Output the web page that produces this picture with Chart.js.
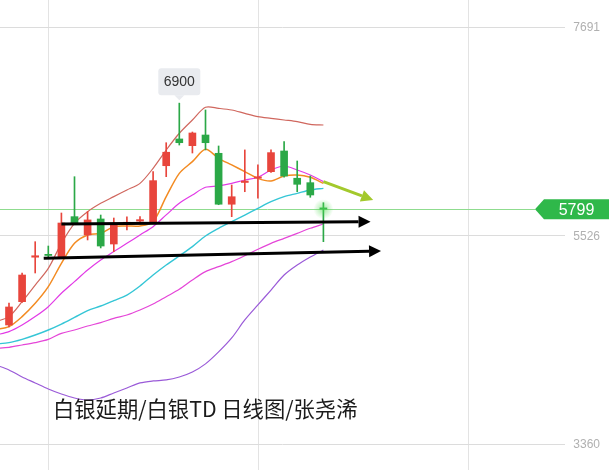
<!DOCTYPE html>
<html>
<head>
<meta charset="utf-8">
<script src="https://cdn.jsdelivr.net/npm/chart.js@4/dist/chart.umd.min.js"></script>
<style>
    html, body { margin: 0; padding: 0; background: #fff; }
    #wrap { width: 612px; height: 470px; position: relative; }
</style>
</head>
<body>
<div id="wrap"><canvas id="myChart"></canvas></div>
<script>
// day index 0 is just off the left edge, only the averages reach it
const opens  = [null, 4596, 4838, 5300, 5330, 5305, 5721, 5531, 5697, 5437, 5648, 5675, 5655, 6250, 6528, 6458, 6569, 6379, 5850, 6076, 6120, 6188, 6403, 6120, 6074, 5812];
const highs  = [null, 4824, 5136, 5461, 5416, 5759, 6136, 5773, 5738, 5707, 5718, 5721, 6188, 6489, 6900, 6600, 6829, 6455, 6050, 6414, 6258, 6414, 6500, 6299, 6143, 5866];
const lows   = [null, 4575, 4830, 5136, 5292, 5300, 5640, 5479, 5396, 5357, 5583, 5645, 5650, 6136, 6465, 6382, 6414, 5845, 5721, 5980, 5912, 6180, 6130, 5980, 5922, 5461];
const closes = [null, 4783, 5115, 5315, 5318, 5655, 5645, 5687, 5416, 5645, 5663, 5690, 6095, 6390, 6489, 6590, 6489, 5850, 5928, 6091, 6135, 6386, 6143, 6057, 5946, 5799];

const maRed     = [4631, 4683, 4838, 5011, 5184, 5444, 5652, 5773, 5860, 5929, 5998, 6067, 6223, 6413, 6587, 6725, 6857, 6846, 6829, 6794, 6760, 6742, 6725, 6708, 6680, 6673];
const maOrange  = [4551, 4579, 4683, 4821, 4994, 5236, 5444, 5531, 5548, 5617, 5624, 5624, 5669, 5929, 6171, 6292, 6420, 6327, 6258, 6189, 6119, 6092, 6143, 6154, 6130, 6067];
const maPink    = [4492, 4527, 4596, 4683, 4786, 4925, 5046, 5167, 5271, 5358, 5444, 5531, 5617, 5739, 5860, 5946, 6026, 6040, 6067, 6102, 6130, 6206, 6247, 6206, 6154, 6085];
const maCyan    = [4399, 4413, 4447, 4492, 4544, 4606, 4675, 4745, 4793, 4849, 4907, 5001, 5115, 5219, 5313, 5410, 5520, 5600, 5669, 5738, 5808, 5877, 5929, 5963, 5998, 6015];
const maPink2   = [4354, 4364, 4388, 4413, 4447, 4509, 4544, 4585, 4620, 4665, 4700, 4752, 4814, 4890, 4966, 5063, 5150, 5202, 5254, 5316, 5382, 5444, 5496, 5548, 5600, 5645];
const maPurple  = [4181, 4129, 4056, 3994, 3931, 3879, 3838, 3817, 3838, 3890, 3942, 3994, 4015, 4025, 4056, 4108, 4192, 4316, 4461, 4648, 4804, 4959, 5115, 5219, 5302, 5375];

const yTicks = [7691, 5526, 3360];
const xGrid = [4, 20, 36];
const lastPrice = 5799;
const peakDay = 14;
const peakPrice = 6900;
// trend arrows: [day, price] -> [day, price]
const arrows = [
    {from: [5, 5645], to: [28.6, 5669], color: '#000'},
    {from: [3.65, 5289], to: [29.4, 5365], color: '#000'},
    {from: [25, 6084], to: [28.8, 5894], color: '#a3c92c'}
];
const title = '白银延期/白银TD 日线图/张尧浠';

const UP = '#e8453c', DOWN = '#2ba847';

function pts(arr) {
    return arr.map(function (v, i) { return {x: i, y: v}; });
}

let wicks = [], bodies = [], cols = [];
for (let i = 1; i < opens.length; i++) {
    wicks.push({x: i, y: [lows[i], highs[i]]});
    bodies.push({x: i, y: [opens[i], closes[i]]});
    cols.push(closes[i] >= opens[i] ? UP : DOWN);
}

function lineSet(data, color, w) {
    return {type: 'line', data: pts(data), borderColor: color, borderWidth: w || 1.2, pointRadius: 0, tension: 0.3, order: 2};
}

const overlay = {
    id: 'overlay',
    beforeDatasetsDraw(chart) {
        const c = chart.ctx, x = chart.scales.x, y = chart.scales.y, a = chart.chartArea;
        c.save();
        c.strokeStyle = '#e3e3e3';
        c.lineWidth = 1;
        xGrid.forEach(function (d) {
            const px = Math.round(x.getPixelForValue(d)) + 0.5;
            c.beginPath(); c.moveTo(px, a.top); c.lineTo(px, a.bottom); c.stroke();
        });
        c.strokeStyle = '#dcdcdc';
        yTicks.forEach(function (t) {
            const py = Math.round(y.getPixelForValue(t)) + 0.5;
            c.beginPath(); c.moveTo(a.left, py); c.lineTo(a.right - 47, py); c.stroke();
        });
        c.fillStyle = '#b0b0b0';
        c.font = '12px "Liberation Sans", Arial, sans-serif';
        c.textAlign = 'right';
        c.textBaseline = 'middle';
        yTicks.forEach(function (t) {
            c.fillText(String(t), a.right - 12, y.getPixelForValue(t) + 1);
        });
        // last price line
        const ly = Math.round(y.getPixelForValue(lastPrice)) + 0.5;
        c.strokeStyle = '#8fdc8f';
        c.beginPath(); c.moveTo(a.left, ly); c.lineTo(a.right - 77, ly); c.stroke();
        c.restore();
    },
    afterDatasetsDraw(chart) {
        const c = chart.ctx, x = chart.scales.x, y = chart.scales.y, a = chart.chartArea;
        c.save();
        // arrows
        arrows.forEach(function (ar) {
            const x1 = x.getPixelForValue(ar.from[0]), y1 = y.getPixelForValue(ar.from[1]);
            const x2 = x.getPixelForValue(ar.to[0]), y2 = y.getPixelForValue(ar.to[1]);
            const ang = Math.atan2(y2 - y1, x2 - x1);
            const hl = 12, hw = 6;
            const bx = x2 - hl * Math.cos(ang), by = y2 - hl * Math.sin(ang);
            c.strokeStyle = ar.color;
            c.fillStyle = ar.color;
            c.lineWidth = 3;
            c.beginPath(); c.moveTo(x1, y1); c.lineTo(bx, by); c.stroke();
            c.beginPath();
            c.moveTo(x2, y2);
            c.lineTo(bx + hw * Math.sin(ang), by - hw * Math.cos(ang));
            c.lineTo(bx - hw * Math.sin(ang), by + hw * Math.cos(ang));
            c.closePath(); c.fill();
        });

        // glow on the last candle
        const gx = x.getPixelForValue(opens.length - 1), gy = y.getPixelForValue(lastPrice);
        const g = c.createRadialGradient(gx, gy, 0, gx, gy, 10);
        g.addColorStop(0, 'rgba(80,220,80,0.55)');
        g.addColorStop(1, 'rgba(80,220,80,0)');
        c.fillStyle = g;
        c.beginPath(); c.arc(gx, gy, 10, 0, Math.PI * 2); c.fill();

        // price tag
        const ty = y.getPixelForValue(lastPrice);
        const tl = a.right - 77, tr = a.right - 3;
        c.fillStyle = '#2fb84a';
        c.beginPath();
        c.moveTo(tl, ty);
        c.lineTo(tl + 9, ty - 10);
        c.lineTo(tr, ty - 10);
        c.lineTo(tr, ty + 10);
        c.lineTo(tl + 9, ty + 10);
        c.closePath(); c.fill();
        c.fillStyle = '#fff';
        c.font = '16px "Liberation Sans", Arial, sans-serif';
        c.textAlign = 'center';
        c.textBaseline = 'middle';
        c.fillText(String(lastPrice), (tl + 9 + tr) / 2, ty + 1);

        // peak tag
        const px = x.getPixelForValue(peakDay), py = y.getPixelForValue(peakPrice);
        c.fillStyle = '#e9ebef';
        c.beginPath();
        c.roundRect(px - 21, py - 35, 42, 27, 3);
        c.fill();
        c.beginPath();
        c.moveTo(px - 5, py - 8); c.lineTo(px + 5, py - 8); c.lineTo(px, py - 3);
        c.closePath(); c.fill();
        c.fillStyle = '#333';
        c.font = '14px "Liberation Sans", Arial, sans-serif';
        c.fillText(String(peakPrice), px, py - 21);

        // caption
        c.fillStyle = '#1a1a1a';
        c.font = '21.3px "Noto Sans CJK SC", sans-serif';
        c.textAlign = 'left';
        c.textBaseline = 'alphabetic';
        c.fillText(title, a.left + 53, a.bottom - 53);
        c.restore();
    }
};

const ctx = document.getElementById('myChart');
let myChart = new Chart(ctx, {
    type: 'line',
    data: {
        datasets: [
            {type: 'bar', data: bodies, backgroundColor: cols, barThickness: 7, grouped: false, order: 0},
            {type: 'bar', data: wicks, backgroundColor: cols, barThickness: 1, grouped: false, order: 1},
            lineSet(maRed, '#d0675e'),
            lineSet(maOrange, '#f38b22', 1.5),
            lineSet(maPink, '#e23ae6'),
            lineSet(maCyan, '#35c6d6', 1.4),
            lineSet(maPink2, '#e546d8'),
            lineSet(maPurple, '#9a5ad8')
        ]
    },
    options: {
        responsive: true,
        maintainAspectRatio: false,
        animation: false,
        layout: {padding: 0},
        scales: {
            x: {type: 'linear', min: 0.313, max: 47.03, offset: false, display: false},
            y: {min: 3090, max: 7971, display: false}
        },
        plugins: {legend: {display: false}, tooltip: {enabled: false}}
    },
    plugins: [overlay]
});
</script>
</body>
</html>
